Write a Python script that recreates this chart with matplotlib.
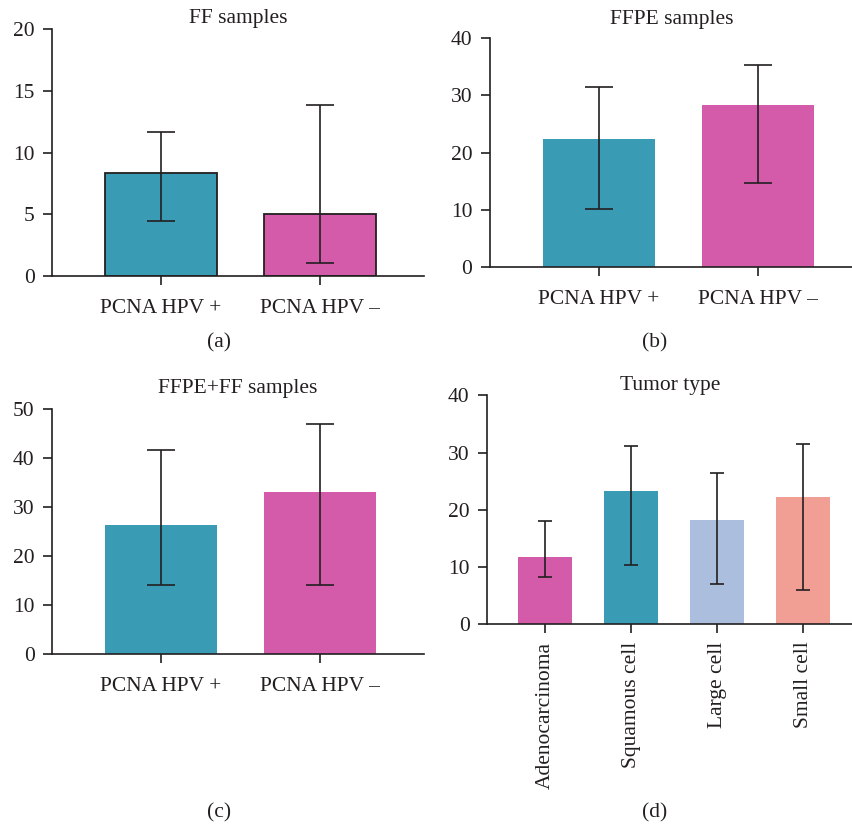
import matplotlib
matplotlib.use("Agg")
import matplotlib.pyplot as plt
import numpy as np

plt.rcParams['font.family'] = ['Liberation Serif', 'DejaVu Serif']
plt.rcParams['font.size'] = 15.5
ink = '#231f20'

teal = '#3a9bb4'
pink = '#d35baa'
lav = '#abbedd'
salmon = '#f19e95'

hpv_labels = ['PCNA HPV +', 'PCNA HPV \u2013']

ff_mean = [8.38, 5.0]
ff_low = [4.49, 1.08]
ff_high = [11.65, 13.84]

ffpe_mean = [22.33, 28.26]
ffpe_low = [10.17, 14.65]
ffpe_high = [31.4, 35.23]

all_mean = [26.36, 33.04]
all_low = [14.17, 14.17]
all_high = [41.76, 46.93]

tumor_labels = ['Adenocarcinoma', 'Squamous cell', 'Large cell', 'Small cell']
tumor_mean = [11.7, 23.29, 18.22, 22.24]
tumor_low = [8.33, 10.37, 7.10, 5.94]
tumor_high = [18.1, 31.09, 26.38, 31.44]

fig = plt.figure(figsize=(8.53, 8.27), dpi=100)


def panel(rect, mean, low, high, labels, colors, ymax, ystep, title, width, xlim,
          capsize=10, edge=None, rot=0, tpad=5, xpad=10):
    ax = fig.add_axes(rect)
    x = np.arange(len(mean))
    mean = np.array(mean)
    yerr = [mean - np.array(low), np.array(high) - mean]
    ax.bar(x, mean, width=width, color=colors,
           edgecolor=edge if edge else 'none', linewidth=1.3 if edge else 0, zorder=2)
    ax.errorbar(x, mean, yerr=yerr, fmt='none', ecolor=ink, elinewidth=1.2,
                capsize=capsize, capthick=1.2, zorder=3)
    ax.set_xlim(*xlim)
    ax.set_ylim(0, ymax)
    ax.set_yticks(np.arange(0, ymax + 1, ystep))
    ax.set_xticks(x)
    if rot:
        ax.set_xticklabels(labels, rotation=90, va='top', ha='center')
    else:
        ax.set_xticklabels(labels)
    for s in ['top', 'right']:
        ax.spines[s].set_visible(False)
    for s in ['left', 'bottom']:
        ax.spines[s].set_color(ink)
        ax.spines[s].set_linewidth(1.2)
    ax.tick_params(axis='both', direction='out', length=6.5, width=1.2, color=ink,
                   labelcolor=ink, labelsize=15.5)
    ax.tick_params(axis='x', pad=xpad)
    ax.tick_params(axis='y', pad=6)
    ax.set_title(title, fontsize=15.5, color=ink, pad=tpad)
    return ax


panel([0.061, 0.666, 0.436, 0.299], ff_mean, ff_low, ff_high, hpv_labels, [teal, pink],
      20, 5, 'FF samples', 0.70, (-0.686, 1.654), edge=ink, tpad=4.5)
panel([0.574, 0.677, 0.426, 0.277], ffpe_mean, ffpe_low, ffpe_high, hpv_labels, [teal, pink],
      40, 10, 'FFPE samples', 0.70, (-0.686, 1.597), tpad=10)
panel([0.061, 0.209, 0.436, 0.296], all_mean, all_low, all_high, hpv_labels, [teal, pink],
      50, 10, 'FFPE+FF samples', 0.70, (-0.686, 1.654), tpad=12)
panel([0.571, 0.245, 0.429, 0.277], tumor_mean, tumor_low, tumor_high, tumor_labels,
      [pink, teal, lav, salmon], 40, 10, 'Tumor type', 0.63, (-0.674, 3.58),
      capsize=5, rot=90, tpad=2.5, xpad=6)

for lab, px, py in [('(a)', 219, 343), ('(b)', 655, 343), ('(c)', 219, 813), ('(d)', 655, 813)]:
    fig.text(px / 853, 1 - py / 827, lab, ha='center', va='center', fontsize=15.5, color=ink)

fig.savefig('out.png', dpi=100)
